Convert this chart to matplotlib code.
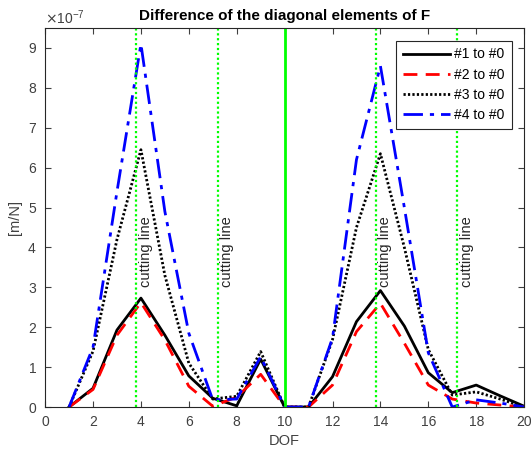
import numpy as np
import matplotlib
matplotlib.use("Agg")
import matplotlib.pyplot as plt
from matplotlib.ticker import ScalarFormatter

# --- data (values in units of 1e-7 m/N) ---
SCALE = 1e-7
dof = np.arange(1, 21)
diff_1 = [0, 0.47, 1.93, 2.73, 1.80, 0.78, 0.22, 0.03, 1.20, 0,
          0, 0.76, 2.14, 2.92, 2.03, 0.86, 0.36, 0.55, 0.28, 0.02]
diff_2 = [0, 0.44, 1.80, 2.62, 1.68, 0.52, 0.02, 0.25, 0.82, 0,
          0, 0.55, 1.89, 2.60, 1.60, 0.55, 0.20, 0.10, 0.05, 0]
diff_3 = [0, 1.40, 4.20, 6.45, 3.30, 1.10, 0.20, 0.27, 1.39, 0,
          0, 1.69, 4.50, 6.35, 4.00, 1.44, 0.30, 0.38, 0.20, 0]
diff_4 = [0, 1.50, 5.40, 9.10, 4.90, 1.85, 0.18, 0.20, 1.26, 0,
          0, 1.73, 6.20, 8.55, 5.00, 1.36, 0.00, 0.18, 0.10, 0]
series_labels = ['#1 to #0', '#2 to #0', '#3 to #0', '#4 to #0']

cut_lines = [3.8, 7.2, 13.8, 17.2]
mid_line = 10
cut_text = 'cutting line'

plt.rcParams['font.family'] = ['Liberation Sans', 'DejaVu Sans']

fig = plt.figure(figsize=(5.31, 4.53), dpi=100)
ax = fig.add_axes([0.085, 0.1015, 0.902, 0.8366])

styles = [dict(color='black', ls='-', lw=2.0),
          dict(color='red', ls=(0, (5, 3)), lw=2.0),
          dict(color='black', ls=(0, (0.8, 0.8)), lw=2.0),
          dict(color='blue', ls=(0, (7, 2.5, 1.5, 2.5)), lw=2.0)]
for vals, lab, st in zip([diff_1, diff_2, diff_3, diff_4], series_labels, styles):
    ax.plot(dof, np.array(vals) * SCALE, label=lab, **st)

# cutting lines and the middle line
for c in cut_lines:
    ax.axvline(c, color='#00ff00', ls=(0, (1, 1.2)), lw=1.6)
    ax.text(c + 0.4, 3.0 * SCALE, cut_text, rotation=90, ha='center',
            va='bottom', fontsize=10.5, color='#262626')
ax.axvline(mid_line, color='#00ff00', ls='-', lw=2.0)

ax.set_xlim(0, 20)
ax.set_ylim(0, 9.5 * SCALE)
ax.set_xticks(np.arange(0, 21, 2))
ax.set_yticks(np.arange(0, 10) * SCALE)

fmt = ScalarFormatter(useMathText=True)
fmt.set_powerlimits((0, 0))
ax.yaxis.set_major_formatter(fmt)
ax.yaxis.get_offset_text().set_fontsize(10)
ax.yaxis.get_offset_text().set_color('#404040')

ax.tick_params(direction='in', top=True, right=True, labelsize=10,
               colors='#404040', length=4, pad=6)
for s in ax.spines.values():
    s.set_color('#262626')
    s.set_linewidth(0.8)

ax.set_xlabel('DOF', fontsize=10.5, color='#404040', labelpad=3)
ax.set_ylabel('[m/N]', fontsize=10.5, color='#404040')
ax.set_title('Difference of the diagonal elements of F', fontsize=11,
             fontweight='bold', pad=6)

leg = ax.legend(loc='upper right', fontsize=10, handlelength=3.4,
                fancybox=False, edgecolor='#262626', framealpha=1,
                borderaxespad=0.9, labelspacing=0.45, borderpad=0.5,
                handletextpad=0.3)
leg.get_frame().set_linewidth(0.8)

fig.savefig('out.png', dpi=100)
